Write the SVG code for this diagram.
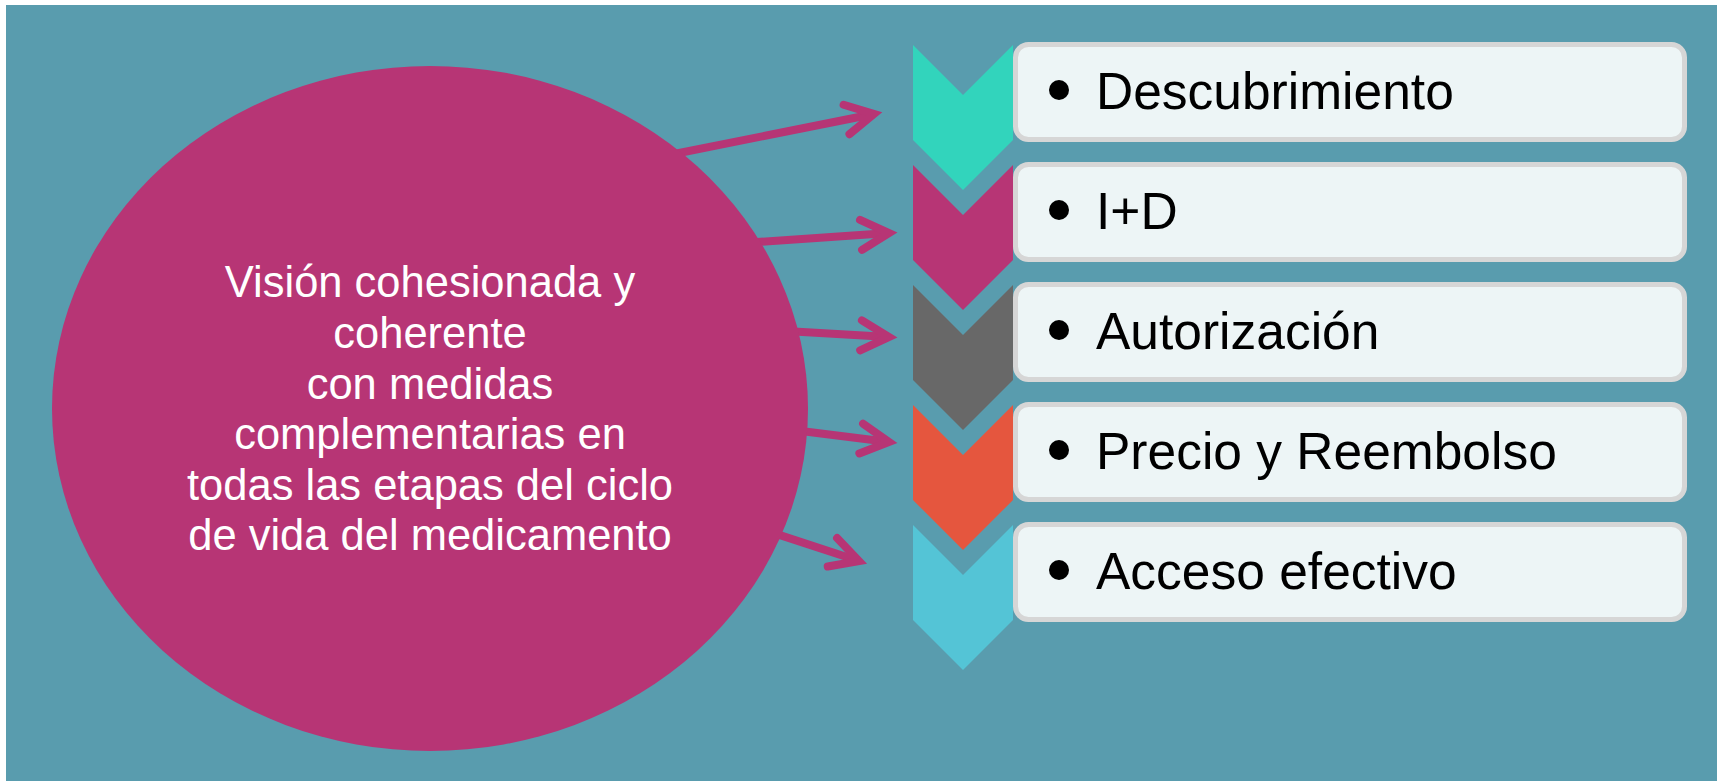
<svg xmlns="http://www.w3.org/2000/svg" width="1717" height="781" viewBox="0 0 1717 781">
  <style>
    .box { fill: #EDF5F6; stroke: #D6D6D6; stroke-width: 5; }
    .lbl { font-family: "Liberation Sans", Arial, sans-serif; font-size: 51.5px; fill: #000000; }
    .bul { fill: #000000; }
    .main { font-family: "Liberation Sans", Arial, sans-serif; font-size: 43.5px; fill: #FFFFFF; text-anchor: middle; }
    .conn { stroke: #B73575; stroke-width: 8; fill: none; stroke-linecap: butt; marker-end: url(#head); }
  </style>
  <defs>
    <marker id="head" markerUnits="userSpaceOnUse" markerWidth="60" markerHeight="60" refX="0" refY="0" orient="auto" overflow="visible">
      <path d="M-28,-15 L0,0 L-28,15" fill="none" stroke="#B73575" stroke-width="8" stroke-linecap="round" stroke-linejoin="miter"/>
    </marker>
  </defs>

  <rect x="6" y="5" width="1711" height="776" fill="#599CAE"/>

  <g id="connectors">
    <line class="conn" x1="649" y1="159" x2="874" y2="114"/>
    <line class="conn" x1="728" y1="244" x2="889" y2="233"/>
    <line class="conn" x1="768" y1="330" x2="889" y2="337"/>
    <line class="conn" x1="777" y1="428" x2="889" y2="442"/>
    <line class="conn" x1="752" y1="526" x2="859" y2="561"/>
  </g>

  <g id="vision">
    <ellipse cx="430" cy="408.5" rx="378" ry="342.5" fill="#B73575"/>
    <text class="main" x="430" y="297">Visión cohesionada y</text>
    <text class="main" x="430" y="348">coherente</text>
    <text class="main" x="430" y="399">con medidas</text>
    <text class="main" x="430" y="449">complementarias en</text>
    <text class="main" x="430" y="500">todas las etapas del ciclo</text>
    <text class="main" x="430" y="550">de vida del medicamento</text>
  </g>

  <g id="stage-descubrimiento">
    <polygon points="913,45 963,95 1013,45 1013,140 963,190 913,140" fill="#32D4BC"/>
    <rect class="box" x="1015.5" y="44.5" width="669" height="95" rx="13"/>
    <circle class="bul" cx="1059" cy="90" r="10"/>
    <text class="lbl" x="1096" y="109">Descubrimiento</text>
  </g>

  <g id="stage-id">
    <polygon points="913,165 963,215 1013,165 1013,260 963,310 913,260" fill="#B73575"/>
    <rect class="box" x="1015.5" y="164.5" width="669" height="95" rx="13"/>
    <circle class="bul" cx="1059" cy="210" r="10"/>
    <text class="lbl" x="1096" y="229">I+D</text>
  </g>

  <g id="stage-autorizacion">
    <polygon points="913,285 963,335 1013,285 1013,380 963,430 913,380" fill="#686868"/>
    <rect class="box" x="1015.5" y="284.5" width="669" height="95" rx="13"/>
    <circle class="bul" cx="1059" cy="330" r="10"/>
    <text class="lbl" x="1096" y="349">Autorización</text>
  </g>

  <g id="stage-precio">
    <polygon points="913,405 963,455 1013,405 1013,500 963,550 913,500" fill="#E5563E"/>
    <rect class="box" x="1015.5" y="404.5" width="669" height="95" rx="13"/>
    <circle class="bul" cx="1059" cy="450" r="10"/>
    <text class="lbl" x="1096" y="469">Precio y Reembolso</text>
  </g>

  <g id="stage-acceso">
    <polygon points="913,525 963,575 1013,525 1013,620 963,670 913,620" fill="#54C4D6"/>
    <rect class="box" x="1015.5" y="524.5" width="669" height="95" rx="13"/>
    <circle class="bul" cx="1059" cy="570" r="10"/>
    <text class="lbl" x="1096" y="589">Acceso efectivo</text>
  </g>
</svg>
